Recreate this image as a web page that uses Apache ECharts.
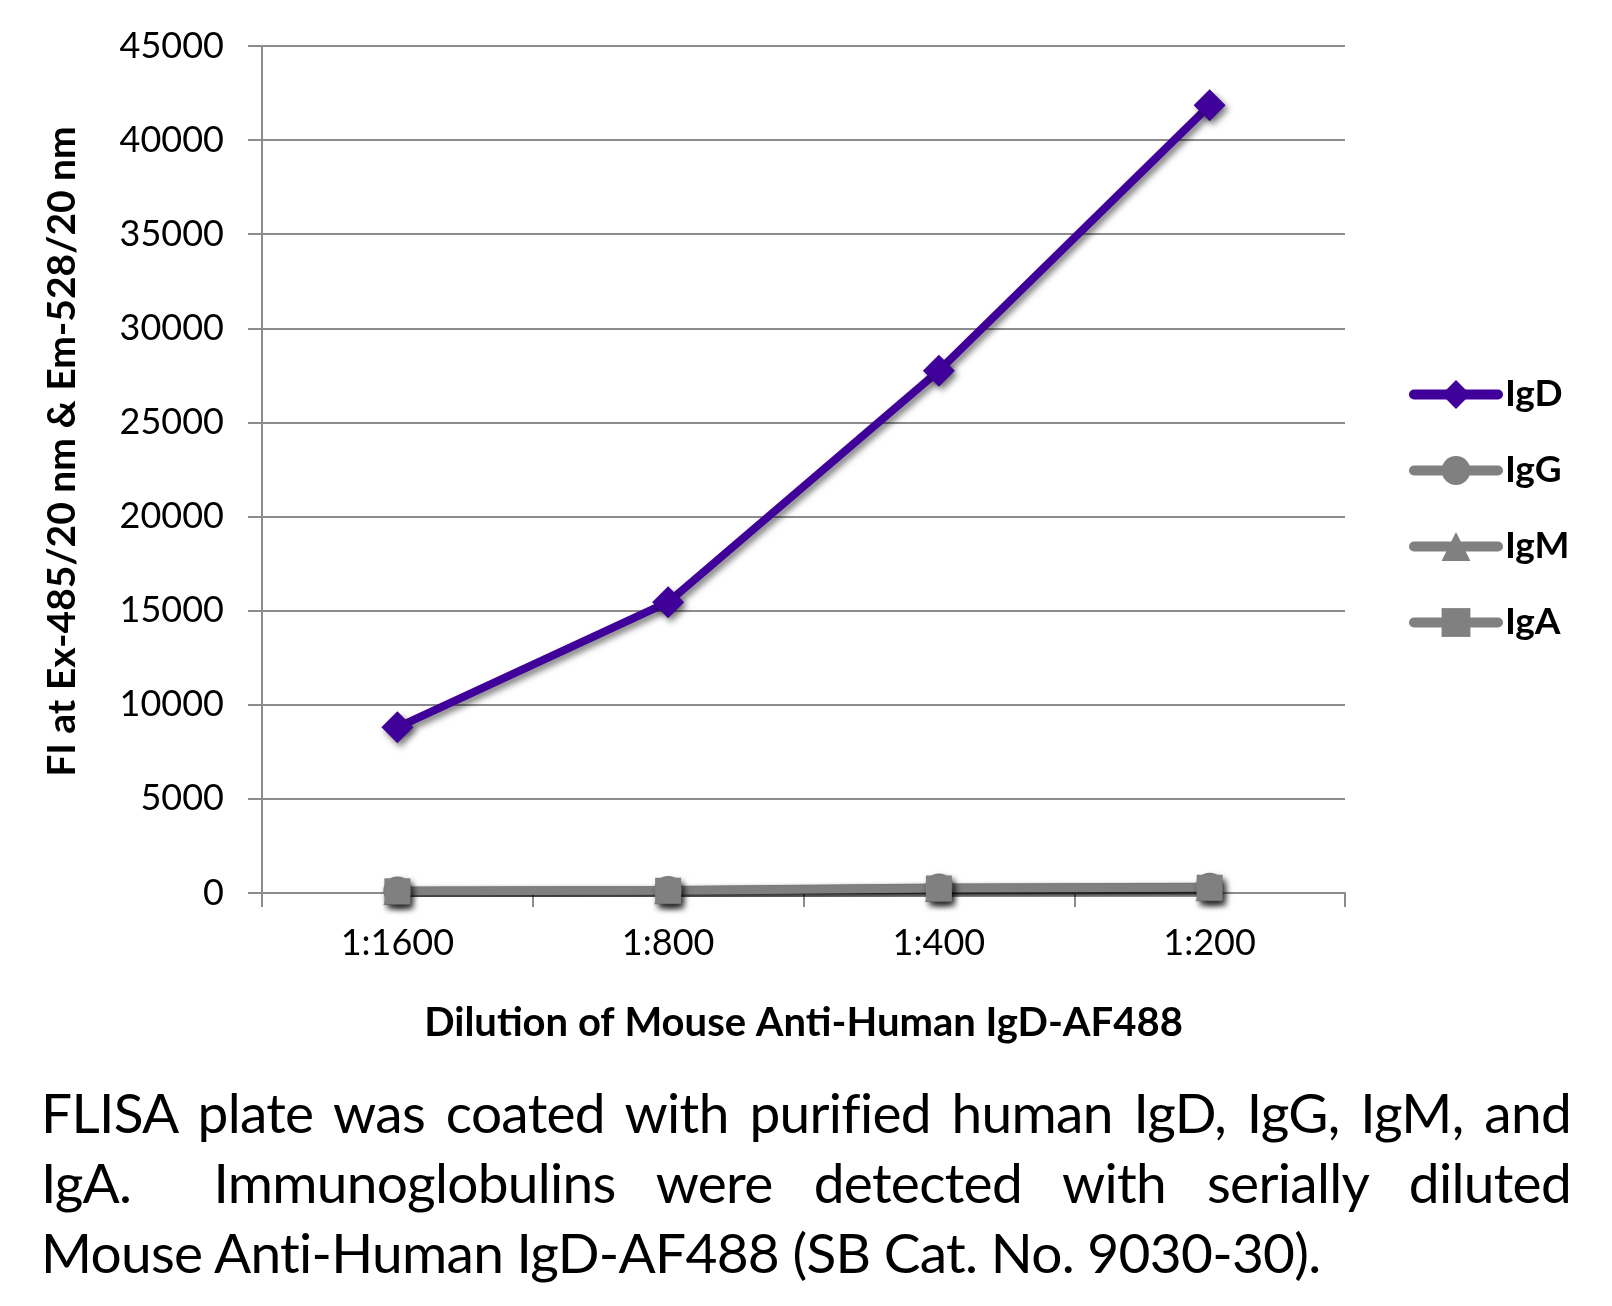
<!DOCTYPE html>
<html>
<head>
<meta charset="utf-8">
<script src="https://cdn.jsdelivr.net/npm/echarts@6/dist/echarts.min.js"></script>
<style>
  html, body { margin: 0; padding: 0; background: #fff; }
  #chart { position: absolute; left: 0; top: 0; width: 1612px; height: 1306px; }
  #caption { position: absolute; left: 41px; top: 1077px; width: 1530px; font-family: Lato, "Open Sans", sans-serif; font-size: 55px; line-height: 70px; letter-spacing: -0.7px; color: #000; }
  #caption .j { text-align: justify; text-align-last: justify; }
</style>
</head>
<body>
<div id="chart"></div>
<div id="caption">
  <div class="j">FLISA plate was coated with purified human IgD, IgG, IgM, and</div>
  <div class="j">IgA.&nbsp; Immunoglobulins were detected with serially diluted</div>
  <div>Mouse Anti-Human IgD-AF488 (SB Cat. No. 9030-30).</div>
</div>
<script>
const categories = ['1:1600', '1:800', '1:400', '1:200'];
const IgD = [8800, 15450, 27750, 41850];
const IgG = [130, 160, 290, 330];
const IgM = [110, 140, 260, 300];
const IgA = [90, 120, 240, 280];
const yTicks = { min: 0, max: 45000, interval: 5000 };

const chart = echarts.init(document.getElementById('chart'));
const font = 'Lato, "Open Sans", sans-serif';
const shadow = { shadowColor: 'rgba(0,0,0,0.5)', shadowBlur: 6, shadowOffsetX: 3, shadowOffsetY: 4 };
function mk(name, data, color, symbol, size) {
  return {
    name, type: 'line', data, symbol, symbolSize: size,
    lineStyle: Object.assign({ color: color, width: 8 }, shadow),
    itemStyle: Object.assign({ color: color }, shadow),
    emphasis: { disabled: true }
  };
}
chart.setOption({
  animation: false,
  grid: { left: 262, right: 267, top: 46, bottom: 413 },
  legend: {
    orient: 'vertical', left: 1404, top: 371, itemGap: 39, itemWidth: 84, itemHeight: 36,
    lineStyle: { width: 10, cap: 'round', shadowBlur: 0, shadowOffsetX: 0, shadowOffsetY: 0 },
    itemStyle: { shadowBlur: 0, shadowOffsetX: 0, shadowOffsetY: 0 },
    textStyle: { fontFamily: font, fontWeight: 'bold', fontSize: 37, color: '#000', padding: [0, 0, 0, 2] },
    data: ['IgD', 'IgG', 'IgM', 'IgA']
  },
  xAxis: {
    type: 'category', data: categories, boundaryGap: true,
    axisLine: { lineStyle: { color: '#8c8c8c', width: 2 } },
    axisTick: { show: true, length: 14, lineStyle: { color: '#8c8c8c', width: 2 } },
    axisLabel: { fontFamily: font, fontSize: 36, color: '#000', margin: 32 },
    name: 'Dilution of Mouse Anti-Human IgD-AF488', nameLocation: 'middle', nameGap: 110,
    nameTextStyle: { fontFamily: font, fontWeight: 'bold', fontSize: 40, color: '#000' }
  },
  yAxis: {
    type: 'value', min: yTicks.min, max: yTicks.max, interval: yTicks.interval,
    axisLine: { show: true, lineStyle: { color: '#8c8c8c', width: 2 } },
    axisTick: { show: true, length: 14, lineStyle: { color: '#8c8c8c', width: 2 } },
    splitLine: { lineStyle: { color: '#8c8c8c', width: 2 } },
    axisLabel: { fontFamily: font, fontSize: 36, color: '#000', margin: 38, formatter: v => String(v) },
    name: 'FI at Ex-485/20 nm & Em-528/20 nm', nameLocation: 'middle', nameGap: 180,
    nameTextStyle: { fontFamily: font, fontWeight: 'bold', fontSize: 39, color: '#000', padding: [0, 0, 0, 36] }
  },
  series: [
    mk('IgD', IgD, '#40009a', 'diamond', 32),
    mk('IgG', IgG, '#808080', 'circle', 28),
    mk('IgM', IgM, '#808080', 'triangle', 28),
    mk('IgA', IgA, '#808080', 'rect', 26)
  ]
});
</script>
</body>
</html>
